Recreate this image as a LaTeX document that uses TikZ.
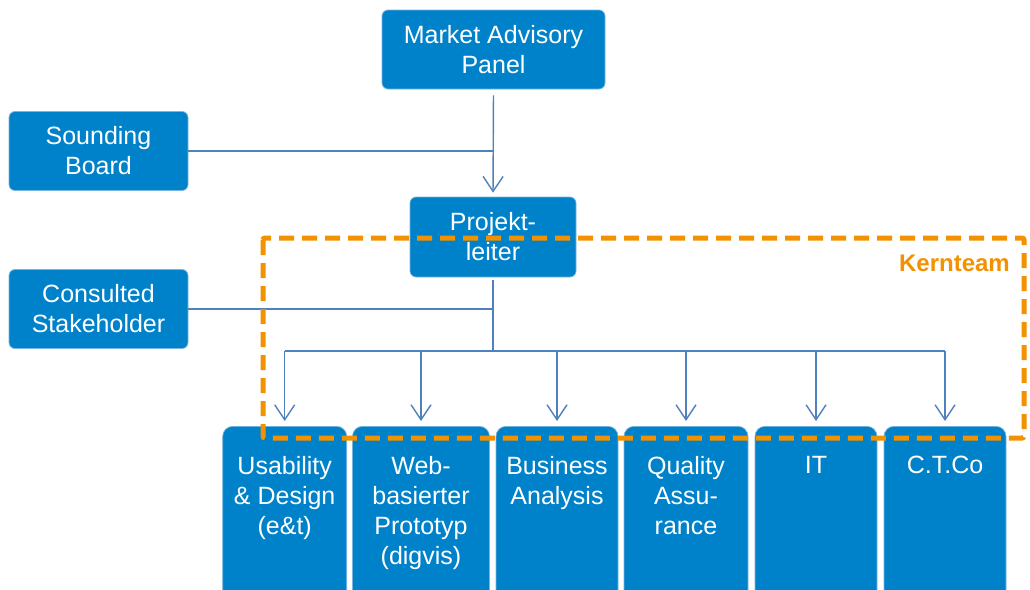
\documentclass[tikz,border=0pt]{standalone}
\usepackage{fontspec}
\setmainfont{Liberation Sans}
\usetikzlibrary{arrows.meta}
\definecolor{boxblue}{RGB}{0,130,202}
\definecolor{boxedge}{RGB}{120,182,226}
\definecolor{linkblue}{RGB}{79,129,189}
\definecolor{kernorange}{RGB}{243,146,0}
\begin{document}
\begin{tikzpicture}[x=1pt,y=-1pt,
  boxtext/.style={font=\fontsize{25}{30}\selectfont, text=white, align=center},
  topbox/.style={boxtext, fill=boxblue, draw=boxedge, line width=0.7pt,
    rounded corners=6pt, inner sep=0pt},
  teambox/.style={fill=boxblue, draw=boxedge, line width=0.7pt,
    rounded corners=10pt, inner sep=0pt, minimum width=123pt, minimum height=190pt, anchor=north},
  teamtext/.style={boxtext, inner sep=0pt, anchor=north},
  link/.style={draw=linkblue, line width=1.4pt},
  feed/.style={link, -{Straight Barb[length=15pt,width=20pt,line width=1.4pt]}},
  kern/.style={draw=kernorange, line width=5pt, dash pattern=on 15pt off 8pt, rounded corners=2pt}
]
\clip (0,0) rectangle (1030,589);
\fill[white] (0,0) rectangle (1030,589);

% upper boxes
\node[topbox, minimum width=223pt, minimum height=79pt] (map) at (493.5,49.5) {Market Advisory\\Panel};
\node[topbox, minimum width=179pt, minimum height=79pt] (sb) at (98.5,151) {Sounding\\Board};
\node[topbox, minimum width=166pt, minimum height=80pt] (pl) at (493,237) {Projekt-\\leiter};
\node[topbox, minimum width=179pt, minimum height=79pt] (cs) at (98.5,309) {Consulted\\Stakeholder};

% team boxes (run past the lower edge)
\node[teambox, minimum width=124pt] (ud) at (284.7,426) {};
\node[teambox, minimum width=137pt] (web) at (421,426) {};
\node[teambox, minimum width=122pt] (ba) at (557,426) {};
\node[teambox, minimum width=124pt] (qa) at (686,426) {};
\node[teambox, minimum width=122pt] (it) at (816,426) {};
\node[teambox, minimum width=122pt] (ctco) at (945,426) {};

\node[teamtext] (ud-t) at (284.7,456) {Usability\\\& Design\\(e\&t)};
\node[teamtext] (web-t) at (421,456) {Web-\\basierter\\Prototyp\\(digvis)};
\node[teamtext] (ba-t) at (557,456) {Business\\Analysis};
\node[teamtext] (qa-t) at (686,456) {Quality\\Assu-\\rance};
\node[teamtext] (it-t) at (816,456) {IT};
\node[teamtext] (ctco-t) at (945,456) {C.T.Co};

% reporting lines
\draw[feed, shorten <=6pt, shorten >=4pt] (map.south) -- (pl.north);
\draw[link] (sb.east) -- (sb.east -| map.south);
\coordinate (bus) at (493,351);
\draw[link, line width=2.2pt, shorten <=3pt] (pl.south) -- (bus);
\draw[link] (cs.east) -- (cs.east -| pl.south);
\draw[link] (bus -| ud.north) -- (bus -| ctco.north);
\foreach \t in {ud,web,ba,qa,it,ctco}
  \draw[feed, shorten >=5pt] (bus -| \t.north) -- (\t.north);

% core team frame
\coordinate (k1) at (263,238);
\coordinate (k2) at (1024,438);
\draw[kern] (k1) rectangle (k2);
\node[font=\fontsize{24}{28}\selectfont\bfseries, text=kernorange, anchor=east, inner sep=0pt] (kt) at (1010,263) {Kernteam};
\end{tikzpicture}
\end{document}
